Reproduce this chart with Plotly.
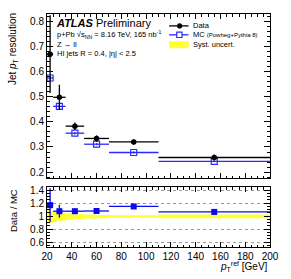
import plotly.graph_objects as go

# ---------------- data ----------------
bin_lo = [20, 25, 35, 50, 70, 110]
bin_hi = [25, 35, 50, 70, 110, 200]
data_res = [0.670, 0.498, 0.383, 0.334, 0.320, 0.258]
data_err = [0.155, 0.050, 0.015, 0.012, 0.010, 0.012]
mc_res = [0.575, 0.462, 0.355, 0.311, 0.278, 0.243]
mc_err = [0.010, 0.008, 0.005, 0.004, 0.004, 0.004]
ratio = [1.17, 1.077, 1.077, 1.08, 1.15, 1.066]
ratio_err = [0.26, 0.10, 0.04, 0.035, 0.04, 0.04]
band_edges = [20, 22, 25, 28, 35, 42, 50, 60, 70, 110, 200]
band_lo = [0.88, 0.90, 0.91, 0.93, 0.945, 0.955, 0.965, 0.97, 0.98, 0.97]
band_hi = [1.10, 1.08, 1.06, 1.05, 1.04, 1.03, 1.025, 1.02, 1.015, 1.025]
x_ticks = [20, 40, 60, 80, 100, 120, 140, 160, 180, 200]
y_ticks_top = [0.2, 0.3, 0.4, 0.5, 0.6, 0.7, 0.8]
y_ticks_bot = [0.6, 0.8, 1.0, 1.2, 1.4]

centers = [(a + b) / 2 for a, b in zip(bin_lo, bin_hi)]
half_w = [(b - a) / 2 for a, b in zip(bin_lo, bin_hi)]

W, H = 291, 279
ML, MR, MT, MB = 47, 14, 12, 32
PW, PH = W - ML - MR, H - MT - MB

def px(x):
    return (x - ML) / PW

def py(y):
    return (H - MB - y) / PH

FONT = "Liberation Sans, Arial, sans-serif"
MC_COL = "#2a2aff"
R_COL = "#0a0af0"
YEL = "#ffff33"

fig = go.Figure()

# Systematic band (ratio panel)
bx = band_edges
fig.add_trace(go.Scatter(x=bx, y=band_lo + [band_lo[-1]], mode="lines",
                         line=dict(shape="hv", width=0, color=YEL),
                         xaxis="x2", yaxis="y2", showlegend=False, hoverinfo="skip"))
fig.add_trace(go.Scatter(x=bx, y=band_hi + [band_hi[-1]], mode="lines",
                         line=dict(shape="hv", width=0, color=YEL),
                         fill="tonexty", fillcolor=YEL,
                         xaxis="x2", yaxis="y2", showlegend=False, hoverinfo="skip"))

# MC
fig.add_trace(go.Scatter(x=centers, y=mc_res, mode="markers",
                         marker=dict(symbol="square-open", size=6, color=MC_COL,
                                     line=dict(width=1.2, color=MC_COL)),
                         error_x=dict(type="data", array=half_w, width=0, color=MC_COL, thickness=1.3),
                         error_y=dict(type="data", array=mc_err, width=0, color=MC_COL, thickness=1.3),
                         xaxis="x", yaxis="y", showlegend=False))
# Data
fig.add_trace(go.Scatter(x=centers, y=data_res, mode="markers",
                         marker=dict(symbol="circle", size=5.5, color="black"),
                         error_x=dict(type="data", array=half_w, width=0, color="black", thickness=1.3),
                         error_y=dict(type="data", array=data_err, width=0, color="black", thickness=1.3),
                         xaxis="x", yaxis="y", showlegend=False, cliponaxis=True))
# Ratio
fig.add_trace(go.Scatter(x=centers, y=ratio, mode="markers",
                         marker=dict(symbol="square", size=6, color=R_COL),
                         error_x=dict(type="data", array=half_w, width=0, color=R_COL, thickness=1.3),
                         error_y=dict(type="data", array=ratio_err, width=0, color=R_COL, thickness=1.3),
                         xaxis="x2", yaxis="y2", showlegend=False))

axis_common = dict(showline=True, linecolor="black", linewidth=1, mirror="ticks",
                   ticks="inside", tickcolor="black", zeroline=False,
                   tickfont=dict(family=FONT, size=10, color="black"))

top_bottom = py(177.5)
bot_top = py(186.5)

fig.update_layout(
    width=W, height=H,
    margin=dict(l=ML, r=MR, t=MT, b=MB),
    paper_bgcolor="white", plot_bgcolor="white",
    showlegend=False,
    xaxis=dict(domain=[0, 1], anchor="y", range=[20, 200], tickvals=x_ticks,
               showticklabels=False, ticklen=5, showgrid=False,
               minor=dict(dtick=5, tick0=20, ticks="inside", ticklen=2.5, tickcolor="black", showgrid=False),
               **axis_common),
    yaxis=dict(domain=[top_bottom, 1], anchor="x", range=[0.176, 0.83], tickvals=y_ticks_top,
               ticktext=[f"{v:.1f}" for v in y_ticks_top], ticklen=6, showgrid=False,
               minor=dict(dtick=0.02, tick0=0.2, ticks="inside", ticklen=3, tickcolor="black", showgrid=False),
               **axis_common),
    xaxis2=dict(domain=[0, 1], anchor="y2", range=[20, 200], tickvals=x_ticks,
                ticklen=5, showgrid=False,
                minor=dict(dtick=5, tick0=20, ticks="inside", ticklen=2.5, tickcolor="black", showgrid=False),
                **axis_common),
    yaxis2=dict(domain=[0, bot_top], anchor="x2", range=[0.525, 1.45], tickvals=y_ticks_bot,
                ticktext=["0.6", "0.8", "1", "1.2", "1.4"], ticklen=6,
                showgrid=True, gridcolor="#9a9a9a", griddash="dot", gridwidth=1,
                minor=dict(dtick=0.05, tick0=0.6, ticks="inside", ticklen=3, tickcolor="black", showgrid=False),
                **axis_common),
)

ann = []
def text(x, y, s, size, xa="left", ya="middle", angle=0):
    ann.append(dict(x=px(x), y=py(y), xref="paper", yref="paper", text=s, showarrow=False,
                    xanchor=xa, yanchor=ya, textangle=angle,
                    font=dict(family=FONT, size=size, color="black")))

text(54, 21, "<b><i>ATLAS</i></b> Preliminary", 11)
text(55, 33, "p+Pb √s<sub>NN</sub> = 8.16 TeV, 165 nb<sup>-1</sup>", 7.5)
text(55, 43, "Z → ll", 7.5)
text(55, 52, "HI jets R = 0.4, |η| < 2.5", 7.5)
text(12, 9, "Jet <i>p</i><sub>T</sub> resolution", 10, xa="center", ya="top", angle=-90)
text(12, 187, "Data / MC", 9.5, xa="center", ya="top", angle=-90)
text(277, 267, "<i>p</i><sub>T</sub><sup>ref</sup> [GeV]", 10, xa="right")

# legend
text(196, 24, "Data", 7.5)
text(196, 33, "MC <span style='font-size:6px'>(Powheg+Pythia 8)</span>", 7.5)
text(196, 43, "Syst. uncert.", 7.5)
fig.update_layout(annotations=ann)

shapes = [
    dict(type="line", xref="paper", yref="paper", x0=px(173), x1=px(193), y0=py(24), y1=py(24),
         line=dict(color="black", width=1.3)),
    dict(type="circle", xref="paper", yref="paper", x0=px(181.3), x1=px(186.3), y0=py(21.5), y1=py(26.5),
         fillcolor="black", line=dict(color="black", width=0.5)),
    dict(type="line", xref="paper", yref="paper", x0=px(173), x1=px(193), y0=py(33), y1=py(33),
         line=dict(color=MC_COL, width=1.3)),
    dict(type="rect", xref="paper", yref="paper", x0=px(180.8), x1=px(186.2), y0=py(30.3), y1=py(35.7),
         fillcolor="white", line=dict(color=MC_COL, width=1.2)),
    dict(type="rect", xref="paper", yref="paper", x0=px(173), x1=px(193), y0=py(39.5), y1=py(46.5),
         fillcolor=YEL, line=dict(width=0)),
]
fig.update_layout(shapes=shapes)

fig.write_html("out.html", config={"displayModeBar": False},
               post_script="document.body.style.margin='0px';document.body.style.overflow='hidden';")
